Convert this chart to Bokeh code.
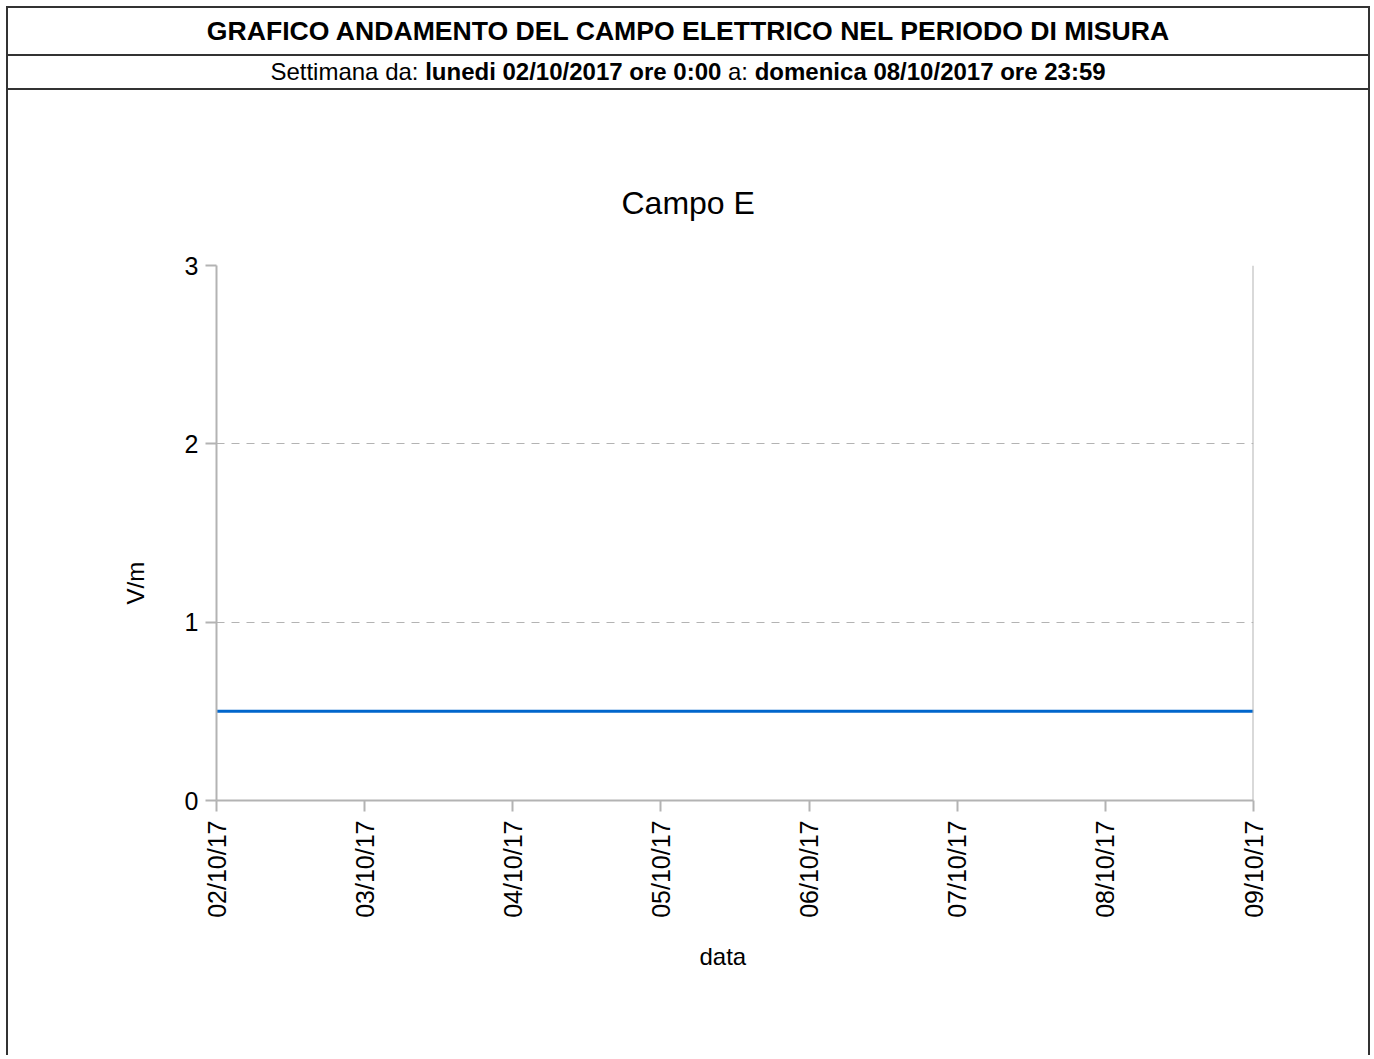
import math
from datetime import datetime
from bokeh.plotting import figure
from bokeh.layouts import column
from bokeh.models import FixedTicker, DatetimeTickFormatter, Span, Div, Title
from bokeh.embed import file_html
from bokeh.resources import INLINE

# ---------------- data ----------------
header_title = "GRAFICO ANDAMENTO DEL CAMPO ELETTRICO NEL PERIODO DI MISURA"
sub_label_from = "Settimana da: "
sub_start = "lunedi 02/10/2017 ore 0:00"
sub_label_to = " a: "
sub_end = "domenica 08/10/2017 ore 23:59"
chart_title = "Campo E"
x_label = "data"
y_label = "V/m"
dates = ["2017-10-02", "2017-10-03", "2017-10-04", "2017-10-05",
         "2017-10-06", "2017-10-07", "2017-10-08", "2017-10-09"]
campo_e = [0.5, 0.5, 0.5, 0.5, 0.5, 0.5, 0.5, 0.5]
y_ticks = [0, 1, 2, 3]

# ---------------- layout ----------------
FONT = "Liberation Sans"
BOX = "#333333"
GRAY = "#b3b3b3"
CW = 1360                 # content width inside the outer box
ROW1, ROW2 = 48, 34        # header row heights (border included)
FIG_H = 965
FL, FT, FW, FH = 208, 175, 1037, 535

xs_dt = [datetime.strptime(d, "%Y-%m-%d") for d in dates]
EPOCH = datetime(1970, 1, 1)
def ms(d):
    return (d - EPOCH).total_seconds() * 1000.0

header_html = (
    f'<div style="width:{CW}px;font-family:\'{FONT}\';color:#000;">'
    f'<div style="box-sizing:border-box;height:{ROW1}px;'
    f'line-height:{ROW1 - 2}px;text-align:center;'
    f'font-size:26.6px;font-weight:bold;border-bottom:2px solid {BOX};'
    f'white-space:nowrap;">{header_title}</div>'
    f'<div style="box-sizing:border-box;height:{ROW2}px;'
    f'line-height:{ROW2 - 2}px;text-align:center;'
    f'font-size:24px;border-bottom:2px solid {BOX};white-space:nowrap;">'
    f'{sub_label_from}<b>{sub_start}</b>{sub_label_to}<b>{sub_end}</b></div>'
    f'</div>')
header = Div(text=header_html, width=CW, height=ROW1 + ROW2, margin=0)

p = figure(width=CW, height=FIG_H, x_axis_type="datetime",
           x_range=(xs_dt[0], xs_dt[-1]), y_range=(y_ticks[0], y_ticks[-1]),
           output_backend="svg", toolbar_location=None,
           min_border_left=FL, min_border_right=CW - FL - FW,
           min_border_top=FT, min_border_bottom=FIG_H - FT - FH,
           title=chart_title, margin=0)
p.outline_line_color = None
p.background_fill_color = "white"
p.border_fill_color = "white"

p.title.align = "left"
p.title.offset = 405
p.title.text_font = FONT
p.title.text_font_size = "32px"
p.title.text_font_style = "normal"
p.title.text_color = "black"
p.title.standoff = 89

# grid
p.xgrid.visible = False
p.ygrid.grid_line_color = GRAY
p.ygrid.grid_line_dash = "8 7"
p.ygrid.grid_line_width = 1

# axes
for ax in (p.xaxis[0], p.yaxis[0]):
    ax.axis_line_color = GRAY
    ax.axis_line_width = 2
    ax.major_tick_line_color = GRAY
    ax.major_tick_line_width = 2
    ax.major_tick_out = 11
    ax.major_tick_in = 0
    ax.minor_tick_line_color = None
    ax.major_label_text_font = FONT
    ax.major_label_text_font_size = "25px"
    ax.major_label_text_color = "black"

p.yaxis[0].ticker = FixedTicker(ticks=y_ticks)
p.yaxis[0].major_label_standoff = 7

p.xaxis[0].ticker = FixedTicker(ticks=[ms(d) for d in xs_dt])
fmt = "%d/%m/%y"
p.xaxis[0].formatter = DatetimeTickFormatter(
    milliseconds=fmt, seconds=fmt, minsec=fmt, minutes=fmt, hourmin=fmt,
    hours=fmt, days=fmt, months=fmt, years=fmt)
p.xaxis[0].major_label_orientation = math.pi / 2
p.xaxis[0].major_label_standoff = 9

# axis titles (side-panel titles, positioned like the original)
y_title = Title(text=y_label, align="left", offset=196, standoff=66,
                text_font=FONT, text_font_size="24px",
                text_font_style="normal", text_color="black")
x_title = Title(text=x_label, align="left", offset=483, standoff=41,
                text_font=FONT, text_font_size="24px",
                text_font_style="normal", text_color="black")
p.add_layout(y_title, "left")
p.add_layout(x_title, "below")

# right wall of the plot area
p.add_layout(Span(location=ms(xs_dt[-1]), dimension="height",
                  line_color=GRAY, line_width=2))

# data line
p.line(xs_dt, campo_e, line_color="#0066cc", line_width=3)

root = column(header, p, margin=(6, 0, 0, 6),
              styles={"border-top": f"2px solid {BOX}",
                      "border-left": f"2px solid {BOX}",
                      "border-right": f"2px solid {BOX}"})

open("out.html", "w").write(file_html(root, INLINE))
